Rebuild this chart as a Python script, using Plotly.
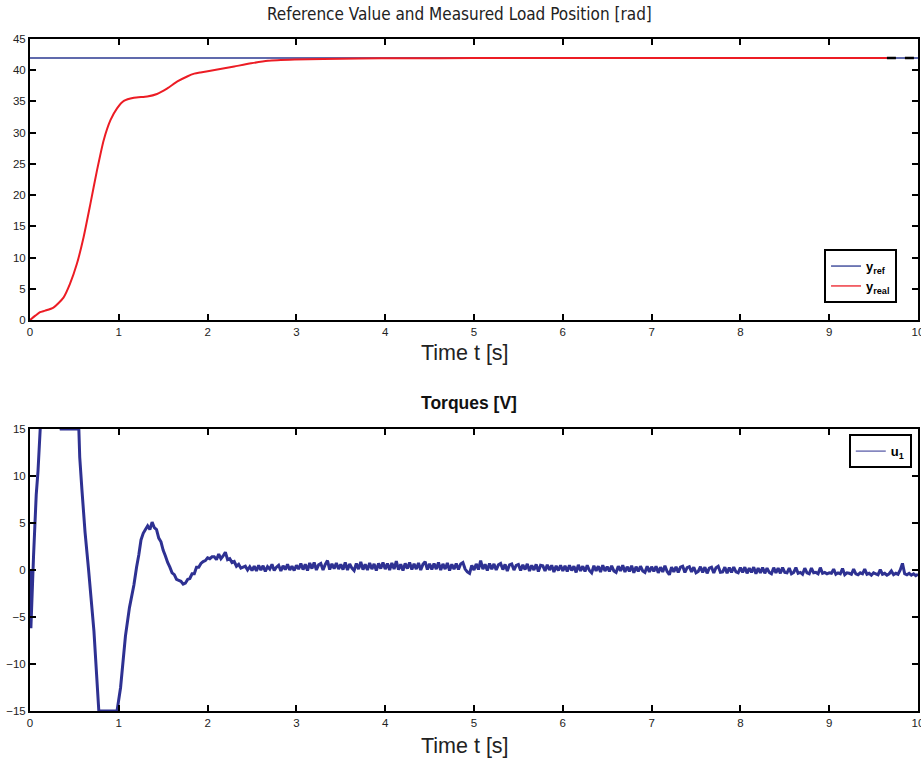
import numpy as np
import plotly.graph_objects as go

# ---------------- data ----------------
# top panel: reference and measured load position [rad]
t_ref = [0.0, 10.0]
y_ref = [41.95, 41.95]
t_dash = [9.65, 10.0]
y_dash = [41.95, 41.95]

t_real = [0.0, 0.06, 0.113, 0.17, 0.264, 0.377, 0.45, 0.528, 0.604, 0.68, 0.755, 0.83,
          0.906, 0.98, 1.057, 1.17, 1.32, 1.43, 1.547, 1.66, 1.77, 1.85, 1.92, 2.11, 2.3,
          2.49, 2.68, 2.98, 3.3, 3.7, 4.2, 5.0, 6.0, 7.0, 8.0, 9.0, 9.65]
y_real = [0.0, 0.7, 1.25, 1.5, 2.0, 3.6, 5.8, 9.0, 13.3, 18.6, 24.0, 28.8,
          32.0, 33.9, 35.1, 35.6, 35.8, 36.2, 37.1, 38.2, 39.0, 39.45, 39.65, 40.1, 40.6,
          41.1, 41.5, 41.7, 41.8, 41.88, 41.92, 41.94, 41.95, 41.95, 41.95, 41.95, 41.95]

# bottom panel: torque u1 [V]
t_u1_start = [0.0, 0.005, 0.01, 0.04, 0.07, 0.09, 0.115, 0.15, 0.25, 0.33, 0.35,
              0.55, 0.56, 0.585, 0.62, 0.66, 0.72, 0.775, 0.98, 1.02, 1.075, 1.12, 1.17]
u1_start = [0.0, -3.0, -6.2, 1.5, 8.0, 10.5, 15.0, 17.0, 18.0, 16.0, 15.0,
            15.0, 12.0, 8.5, 4.0, 0.0, -6.5, -15.0, -15.0, -12.5, -7.0, -4.0, -1.6]

u1_noisy_t0 = 1.2
u1_noisy_dt = 0.025
u1_noisy = [
    0.3, 1.6, 3.2, 3.9, 4.3, 4.7, 4.3, 5.1, 4.5, 4.3, 3.4, 3.0, 2.1, 1.5, 0.8, 0.3, -0.3, -0.5, -1.0, -1.1,
    -1.2, -1.5, -1.4, -1.0, -0.9, -0.4, -0.4, 0.3, 0.3, 0.7, 0.9, 1.0, 1.3, 1.2, 1.4, 1.4, 1.1, 1.7, 1.2, 1.5,
    1.9, 1.1, 1.2, 0.8, 0.9, 0.4, 0.6, 0.2, 0.3, 0.4, 0.0, 0.35, -0.05,
    0.4, -0.1, 0.5, 0.0, 0.45, -0.15, 0.35, 0.1, 0.6, -0.05, 0.3, 0.5, -0.1, 0.45, 0.05, 0.6, 0.0, 0.4, -0.05, 0.5,
    0.1, 0.7, 0.05, 0.6, -0.05, 0.75, 0.15, 0.8, 0.0, 0.55, 0.7, 0.0, 0.6, 1.0, 0.05, 0.65, 0.15, 0.75, 0.1, 0.6,
    0.05, 0.8, 0.0, 0.65, 0.2, -0.05, 0.7, 0.1, 0.85, 0.05, 0.6, 0.0, 0.75, 0.1, 0.65, -0.05, 0.7, 0.15, 0.8, 0.1,
    0.7, 0.0, 0.75, 0.1, 0.95, 0.05, 0.6, -0.05, 0.7, 0.15, 0.8, 0.05, 0.65, 0.1, 0.75, 0.0, 0.6, 0.9, 0.05, 0.65,
    0.05, 0.7, 0.1, 0.8, 0.0, 0.65, 0.1, 0.75, -0.05, 0.6, 0.1, 0.7, 0.05, 0.65, 0.8, 0.1, -0.2, -0.35, 0.5, 0.0,
    0.65, 0.05, 1.0, 0.1, 0.6, -0.05, 0.7, 0.1, 0.65, 0.0, 0.55, 0.7, 0.05, 0.6, -0.1, 0.55, 0.65, 0.0, 0.5, 0.6,
    -0.05, 0.55, 0.05, 0.65, -0.1, 0.5, 0.0, 0.6, -0.15, 0.5, 0.45, -0.1, 0.55, 0.0, 0.5, -0.2, 0.45, -0.05, 0.5, -0.1,
    0.45, -0.15, 0.5, -0.05, 0.4, -0.25, 0.55, -0.1, 0.4, -0.15, 0.5, -0.05, -0.3, 0.45, -0.1, 0.4, -0.2, 0.5, -0.1, 0.35,
    -0.15, 0.45, -0.1, -0.25, 0.4, -0.1, 0.5, -0.2, 0.35, -0.15, 0.45, -0.3, 0.35, -0.15, 0.4, -0.1, -0.25, 0.4, -0.2, 0.35,
    -0.15, 0.4, -0.3, 0.3, -0.2, 0.45, -0.15, -0.5, 0.3, -0.2, 0.35, -0.25, 0.3, 0.4, -0.25, 0.25, 0.35, -0.2, 0.3, -0.3,
    -0.15, 0.35, -0.25, 0.3, -0.35, 0.2, 0.3, -0.3, 0.25, 0.4, -0.25, -0.2, 0.3, -0.35, 0.25, -0.25, 0.3, -0.2, -0.3, 0.25,
    -0.25, 0.3, -0.35, 0.2, -0.25, 0.3, -0.4, 0.2, -0.3, 0.25, -0.35, 0.2, -0.25, -0.4, 0.25, -0.3, 0.2, -0.35, 0.25, -0.25,
    -0.3, 0.2, -0.4, -0.25, 0.25, -0.35, -0.25, -0.45, 0.2, -0.3, -0.4, 0.2, -0.3, -0.25, -0.4, 0.25, -0.35, -0.25, -0.4, -0.3,
    -0.35, 0.1, -0.45, -0.3, -0.4, 0.15, -0.5, -0.3, -0.35, -0.45, 0.1, -0.4, -0.5, -0.3, -0.4, 0.1, -0.45, -0.35, -0.55, -0.3,
    -0.4, -0.5, 0.05, -0.45, -0.35, -0.55, -0.4, -0.1, -0.5, -0.35, -0.45, 0.0, 0.7, -0.4, -0.5, -0.35, -0.55, -0.4, -0.6, -0.45,
]

x_ticks = [0, 1, 2, 3, 4, 5, 6, 7, 8, 9, 10]
y_ticks_top = [0, 5, 10, 15, 20, 25, 30, 35, 40, 45]
y_ticks_bot = [-15, -10, -5, 0, 5, 10, 15]

title_top = "Reference Value and Measured Load Position [rad]"
title_bot = "Torques [V]"
x_title = "Time t [s]"

# ---------------- build ----------------
t_noisy = u1_noisy_t0 + u1_noisy_dt * np.arange(len(u1_noisy))
t_u1 = list(t_u1_start) + list(t_noisy)
u1 = list(u1_start) + list(u1_noisy)

BLUE = "#2b3990"
RED = "#ec1c24"
NAVY = "#2e3192"
FONT = "Liberation Sans, Arial, sans-serif"

fig = go.Figure()
fig.add_trace(go.Scatter(x=t_ref, y=y_ref, mode="lines", showlegend=False,
                         line=dict(color=BLUE, width=1.5), xaxis="x", yaxis="y"))
fig.add_trace(go.Scatter(x=t_real, y=y_real, mode="lines", showlegend=False,
                         line=dict(color=RED, width=2, shape="spline", smoothing=0.6),
                         xaxis="x", yaxis="y"))
fig.add_trace(go.Scatter(x=t_dash, y=y_dash, mode="lines", showlegend=False,
                         line=dict(color="black", width=2.5, dash="dash"), xaxis="x", yaxis="y"))
fig.add_trace(go.Scatter(x=t_u1, y=u1, mode="lines", showlegend=False,
                         line=dict(color=NAVY, width=3, simplify=False), xaxis="x2", yaxis="y2"))
# legend entries (thin lines as in the reference)
fig.add_trace(go.Scatter(x=[None], y=[None], mode="lines", name="<b>y<sub>ref</sub></b>",
                         line=dict(color=BLUE, width=1.3), xaxis="x", yaxis="y", legend="legend"))
fig.add_trace(go.Scatter(x=[None], y=[None], mode="lines", name="<b>y<sub>real</sub></b>",
                         line=dict(color=RED, width=1.3), xaxis="x", yaxis="y", legend="legend"))
fig.add_trace(go.Scatter(x=[None], y=[None], mode="lines", name="<b>u<sub>1</sub></b>",
                         line=dict(color=NAVY, width=1), xaxis="x2", yaxis="y2", legend="legend2"))

axis_common = dict(showline=True, linewidth=2, linecolor="black", mirror="ticks",
                   ticks="inside", ticklen=6, tickwidth=1.5, tickcolor="black",
                   showgrid=False, zeroline=False, ticklabeloverflow="allow", automargin=False,
                   tickfont=dict(family=FONT, size=11.5, color="#222222"))

fig.update_layout(
    width=921, height=765,
    margin=dict(l=30, r=3, t=39, b=54, autoexpand=False),
    paper_bgcolor="white", plot_bgcolor="white",
    xaxis=dict(domain=[0, 1], range=[0, 10], tickvals=x_ticks, anchor="y", **axis_common),
    yaxis=dict(domain=[0.5818, 1], range=[0, 45], tickvals=y_ticks_top, anchor="x", **axis_common),
    xaxis2=dict(domain=[0, 1], range=[0, 10], tickvals=x_ticks, anchor="y2", **axis_common),
    yaxis2=dict(domain=[0, 0.4196], range=[-15, 15], tickvals=y_ticks_bot, anchor="x2", **axis_common),
    legend=dict(x=0.9764, y=0.607, xanchor="right", yanchor="bottom",
                bgcolor="white", bordercolor="black", borderwidth=2,
                font=dict(family=FONT, size=13, color="black"),
                tracegroupgap=0, itemwidth=30),
    legend2=dict(x=0.993, y=0.412, xanchor="right", yanchor="top",
                 bgcolor="white", bordercolor="black", borderwidth=2,
                 font=dict(family=FONT, size=13, color="black"), itemwidth=30),
    showlegend=True,
    annotations=[
        dict(text=title_top, xref="paper", yref="paper", x=0.484, y=1, yshift=25,
             xanchor="center", yanchor="middle", showarrow=False,
             font=dict(family="Liberation Sans Narrow, DejaVu Sans Condensed, Liberation Sans", size=17, color="#222")),
        dict(text=x_title, xref="paper", yref="paper", x=0.49, y=0.5818, yshift=-33,
             xanchor="center", yanchor="middle", showarrow=False,
             font=dict(family=FONT, size=21.5, color="#222")),
        dict(text="<b>" + title_bot + "</b>", xref="paper", yref="paper", x=0.494, y=0.4196, yshift=26,
             xanchor="center", yanchor="middle", showarrow=False,
             font=dict(family=FONT, size=17.5, color="#111")),
        dict(text=x_title, xref="paper", yref="paper", x=0.49, y=0, yshift=-35,
             xanchor="center", yanchor="middle", showarrow=False,
             font=dict(family=FONT, size=21.5, color="#222")),
    ],
)

fig.write_html("out.html")
